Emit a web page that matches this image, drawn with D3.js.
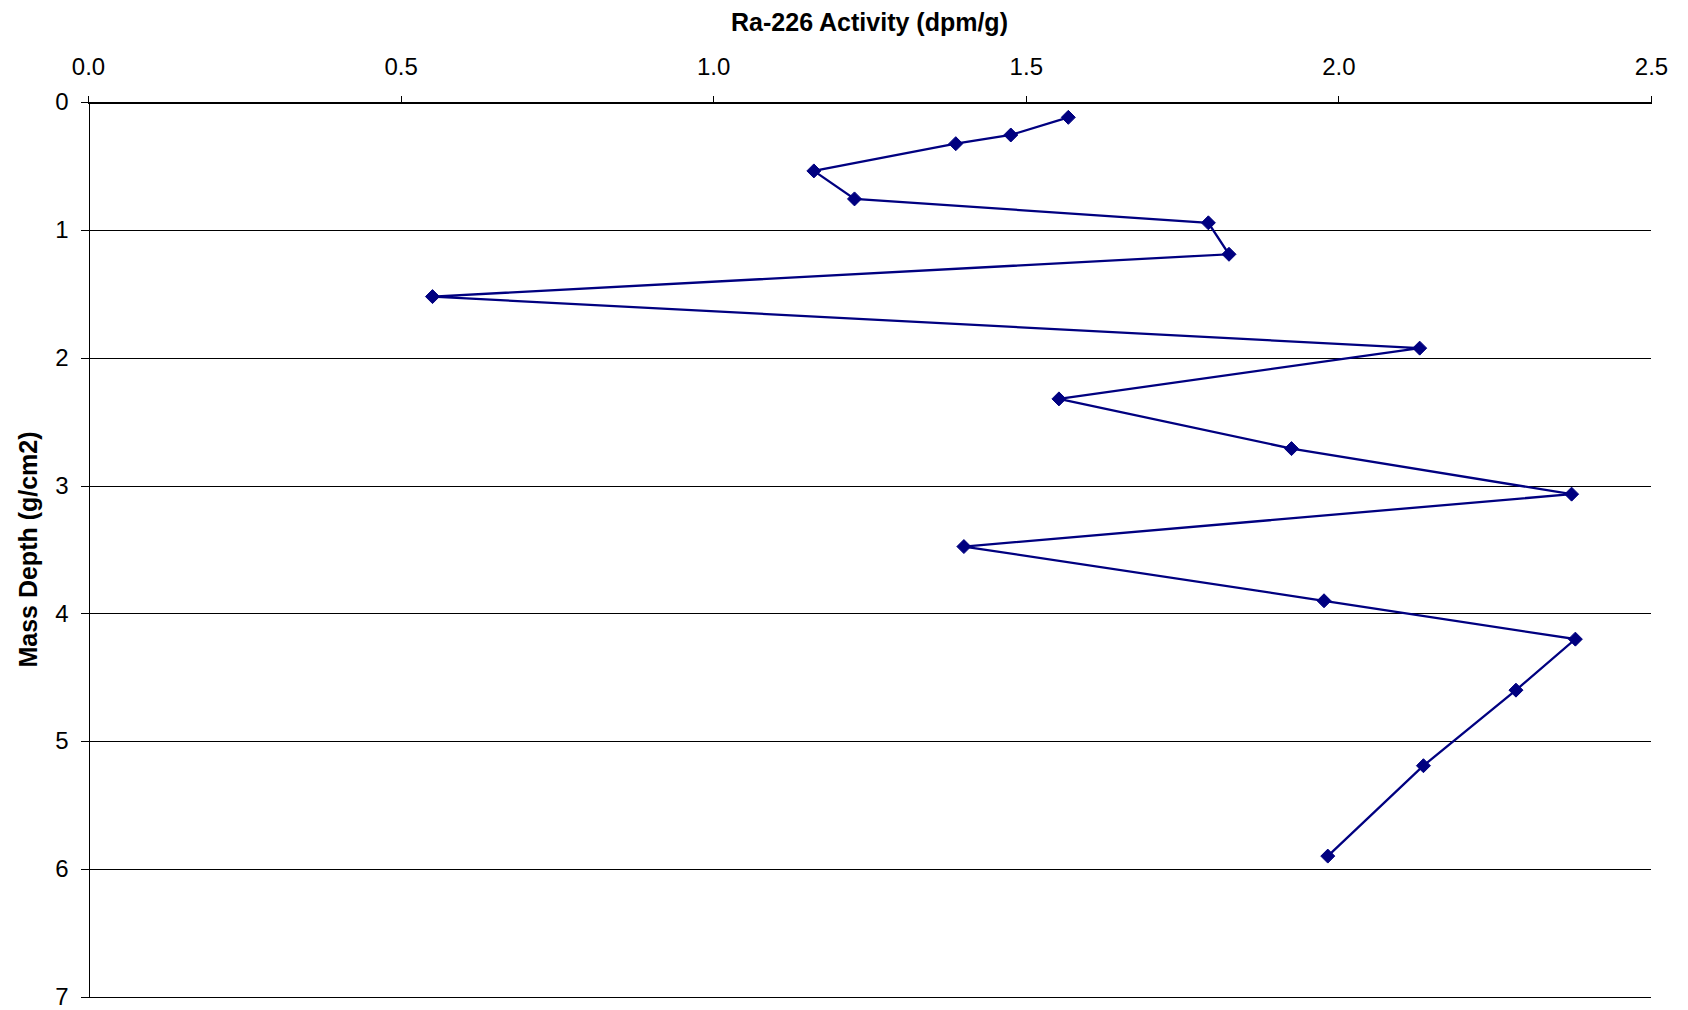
<!DOCTYPE html>
<html>
<head>
<meta charset="utf-8">
<script src="https://cdn.jsdelivr.net/npm/d3@7"></script>
<style>
  html, body { margin: 0; padding: 0; background: #fff; }
  svg { display: block; font-family: "Liberation Sans", Arial, sans-serif; }
</style>
</head>
<body>
<svg id="chart" width="1688" height="1010"></svg>
<script>
// Data
const activity = [1.568, 1.476, 1.388, 1.161, 1.226, 1.792, 1.825, 0.551, 2.130, 1.553, 1.925, 2.373, 1.401, 1.977, 2.379, 2.284, 2.136, 1.983];
const depth    = [0.120, 0.258, 0.326, 0.539, 0.758, 0.945, 1.191, 1.522, 1.925, 2.322, 2.711, 3.067, 3.477, 3.901, 4.201, 4.600, 5.191, 5.898];
const xTicks = [0, 0.5, 1.0, 1.5, 2.0, 2.5];
const yTicks = [0, 1, 2, 3, 4, 5, 6, 7];
const xTitle = "Ra-226 Activity (dpm/g)";
const yTitle = "Mass Depth (g/cm2)";

(function () {
  const points = activity.map((a, i) => ({ a: a, d: depth[i] }));

  const pLeft = 88, pRight = 1651, pTop = 102, pBottom = 997;
  const svg = d3.select("#chart");

  const x = d3.scaleLinear().domain([0, 2.5]).range([pLeft, pRight]);
  const y = d3.scaleLinear().domain([0, 7]).range([pTop, pBottom]);

  // Horizontal gridlines
  svg.append("g")
    .selectAll("line")
    .data(yTicks)
    .join("line")
    .attr("x1", pLeft)
    .attr("x2", pRight)
    .attr("y1", d => Math.round(y(d)) + 0.5)
    .attr("y2", d => Math.round(y(d)) + 0.5)
    .attr("stroke", "#000")
    .attr("stroke-width", 1)
    .attr("shape-rendering", "crispEdges");

  // Top x axis
  const xAxis = svg.append("g")
    .attr("transform", `translate(0,${Math.round(pTop) + 0.5})`)
    .call(d3.axisTop(x).tickValues(xTicks).tickFormat(d3.format(".1f")).tickSize(7).tickPadding(21));
  xAxis.select(".domain").attr("stroke", "#000").attr("shape-rendering", "crispEdges");
  xAxis.selectAll(".tick line").attr("stroke", "#000").attr("shape-rendering", "crispEdges");
  xAxis.selectAll("text").attr("font-size", 24).attr("fill", "#000")
    .attr("font-family", "Liberation Sans, Arial, sans-serif");

  // Left y axis
  const yAxis = svg.append("g")
    .attr("transform", `translate(${Math.round(pLeft) + 0.5},0)`)
    .call(d3.axisLeft(y).tickValues(yTicks).tickFormat(d3.format("d")).tickSize(8).tickPadding(12));
  yAxis.select(".domain").attr("stroke", "#000").attr("shape-rendering", "crispEdges");
  yAxis.selectAll(".tick line").attr("stroke", "#000").attr("shape-rendering", "crispEdges");
  yAxis.selectAll("text").attr("font-size", 24).attr("fill", "#000")
    .attr("font-family", "Liberation Sans, Arial, sans-serif");

  // Axis titles
  svg.append("text")
    .attr("x", (pLeft + pRight) / 2)
    .attr("y", 31)
    .attr("text-anchor", "middle")
    .attr("font-size", 25)
    .attr("font-weight", "bold")
    .attr("fill", "#000")
    .text(xTitle);

  svg.append("text")
    .attr("transform", `translate(37,${(pTop + pBottom) / 2}) rotate(-90)`)
    .attr("text-anchor", "middle")
    .attr("font-size", 25)
    .attr("font-weight", "bold")
    .attr("fill", "#000")
    .text(yTitle);

  // Series line
  const line = d3.line().x(d => x(d.a)).y(d => y(d.d));
  svg.append("path")
    .datum(points)
    .attr("d", line)
    .attr("fill", "none")
    .attr("stroke", "#000080")
    .attr("stroke-width", 2.3)
    .attr("stroke-linejoin", "miter");

  // Diamond markers
  const diamond = "M0,-7L7,0L0,7L-7,0Z";
  svg.append("g")
    .selectAll("path")
    .data(points)
    .join("path")
    .attr("d", diamond)
    .attr("transform", d => `translate(${x(d.a)},${y(d.d)})`)
    .attr("fill", "#000080")
    .attr("stroke", "#000080")
    .attr("stroke-width", 1);
})();
</script>
</body>
</html>
